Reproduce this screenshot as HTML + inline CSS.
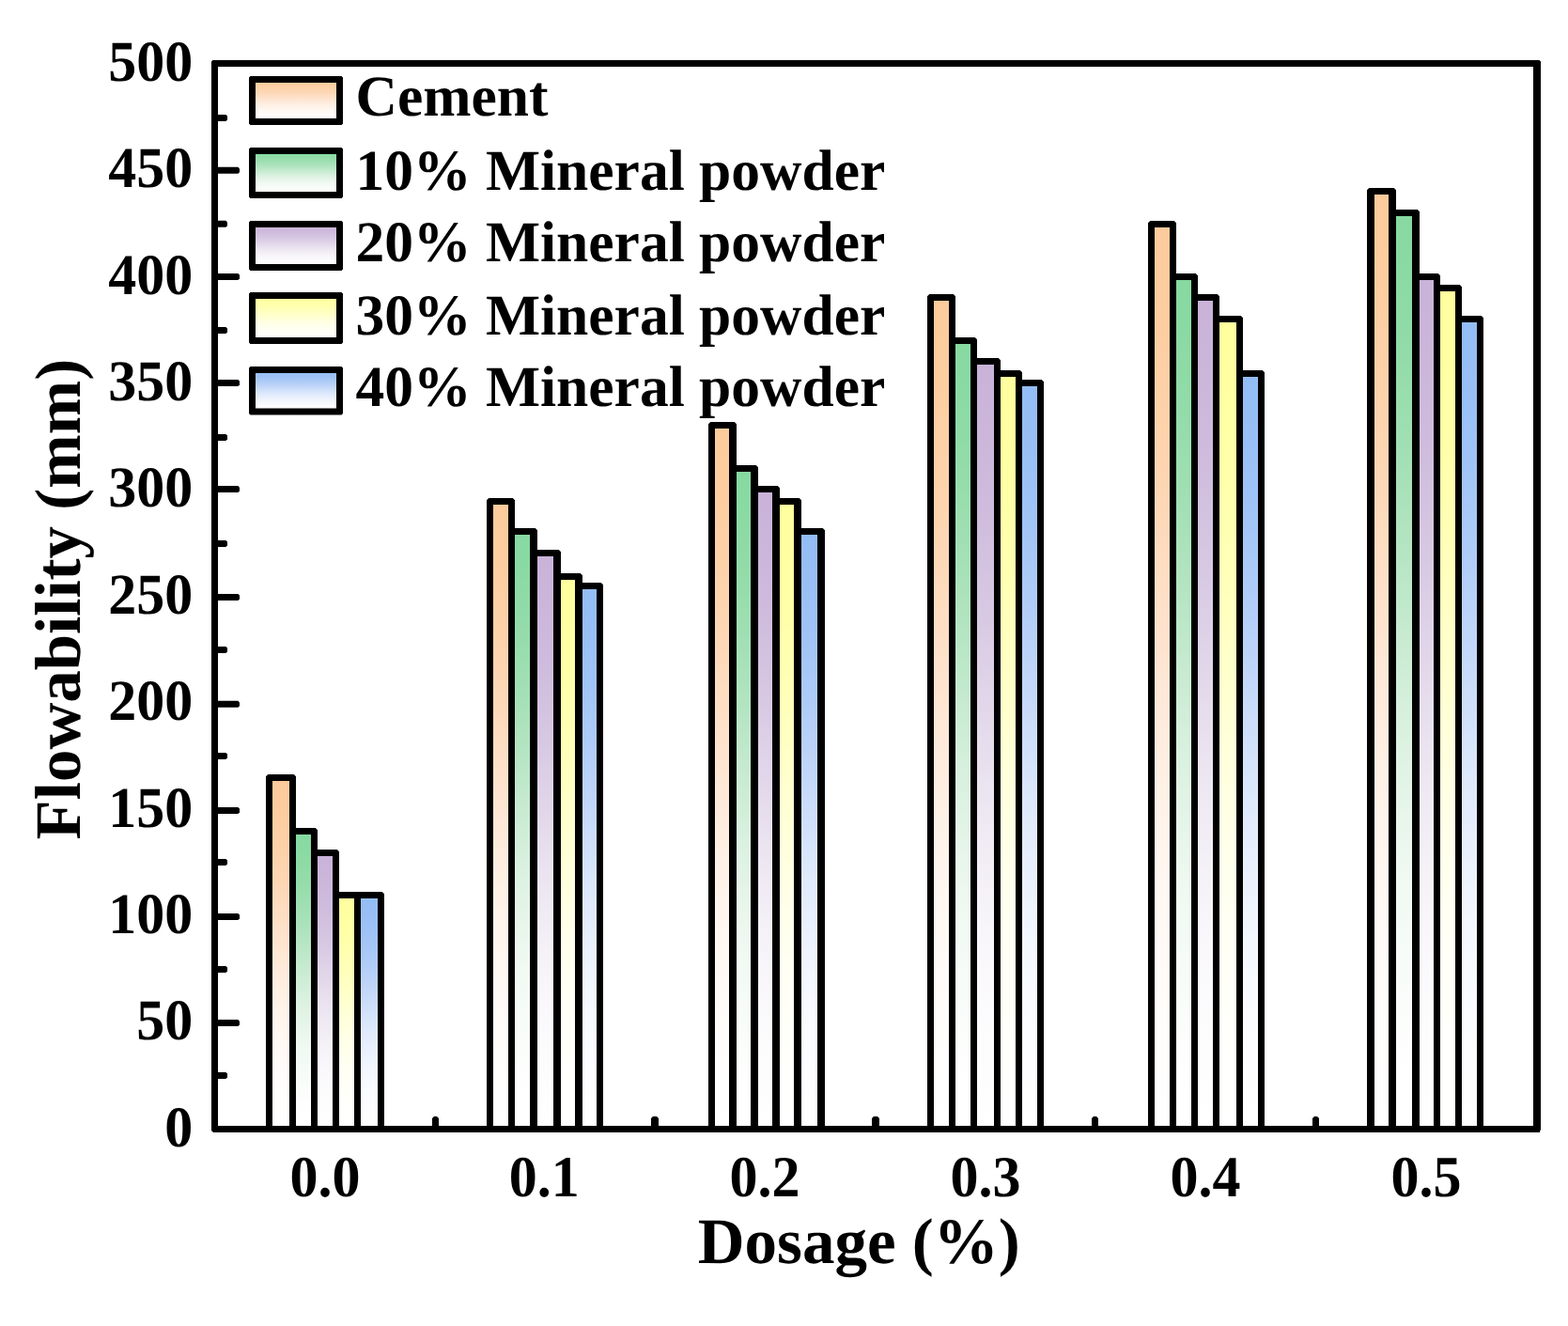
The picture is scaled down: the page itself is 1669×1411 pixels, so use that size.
<!DOCTYPE html>
<html lang="en"><head><meta charset="utf-8"><title>Flowability vs Dosage</title>
<style>
html,body{margin:0;padding:0;background:#fff;}
body{width:1669px;height:1411px;overflow:hidden;}
svg{display:block;}
text{font-family:"Liberation Serif","Times New Roman",Times,serif;font-weight:bold;fill:#000;font-kerning:none;font-variant-ligatures:none;text-rendering:geometricPrecision;}
.tk{font-size:60px;}
.lg{font-size:61.5px;}
.ti{font-size:69px;}
</style></head><body>
<svg width="1669" height="1411" viewBox="0 0 1669 1411">
<defs>
<linearGradient id="g0" x1="0" y1="0" x2="0" y2="1">
<stop offset="0" stop-color="#FDCB9B"/>
<stop offset="0.04167" stop-color="#FDCC9D"/>
<stop offset="0.08333" stop-color="#FDCD9F"/>
<stop offset="0.125" stop-color="#FDCEA2"/>
<stop offset="0.1667" stop-color="#FDD0A6"/>
<stop offset="0.2083" stop-color="#FDD2AA"/>
<stop offset="0.25" stop-color="#FDD4AF"/>
<stop offset="0.2917" stop-color="#FDD6B4"/>
<stop offset="0.3333" stop-color="#FDD9BA"/>
<stop offset="0.375" stop-color="#FEDDC1"/>
<stop offset="0.4167" stop-color="#FEE0C8"/>
<stop offset="0.4583" stop-color="#FEE3CE"/>
<stop offset="0.5" stop-color="#FEE7D5"/>
<stop offset="0.5417" stop-color="#FEEADB"/>
<stop offset="0.5833" stop-color="#FEEEE1"/>
<stop offset="0.625" stop-color="#FEF1E6"/>
<stop offset="0.6667" stop-color="#FFF4EB"/>
<stop offset="0.7083" stop-color="#FFF6F0"/>
<stop offset="0.75" stop-color="#FFF8F3"/>
<stop offset="0.7917" stop-color="#FFFAF7"/>
<stop offset="0.8333" stop-color="#FFFBF9"/>
<stop offset="0.875" stop-color="#FFFDFB"/>
<stop offset="0.9167" stop-color="#FFFEFD"/>
<stop offset="0.9583" stop-color="#FFFEFE"/>
<stop offset="1" stop-color="#FFFFFF"/>
</linearGradient>
<linearGradient id="g1" x1="0" y1="0" x2="0" y2="1">
<stop offset="0" stop-color="#86D9A0"/>
<stop offset="0.04167" stop-color="#88DAA2"/>
<stop offset="0.08333" stop-color="#8CDAA4"/>
<stop offset="0.125" stop-color="#8FDBA7"/>
<stop offset="0.1667" stop-color="#94DCAA"/>
<stop offset="0.2083" stop-color="#9ADEAE"/>
<stop offset="0.25" stop-color="#A0DFB3"/>
<stop offset="0.2917" stop-color="#A7E1B8"/>
<stop offset="0.3333" stop-color="#AFE3BD"/>
<stop offset="0.375" stop-color="#B6E5C4"/>
<stop offset="0.4167" stop-color="#BEE8CA"/>
<stop offset="0.4583" stop-color="#C7EAD0"/>
<stop offset="0.5" stop-color="#CEEDD6"/>
<stop offset="0.5417" stop-color="#D6F0DD"/>
<stop offset="0.5833" stop-color="#DDF2E2"/>
<stop offset="0.625" stop-color="#E3F4E7"/>
<stop offset="0.6667" stop-color="#E9F6EC"/>
<stop offset="0.7083" stop-color="#EEF8F0"/>
<stop offset="0.75" stop-color="#F2FAF4"/>
<stop offset="0.7917" stop-color="#F5FBF7"/>
<stop offset="0.8333" stop-color="#F8FCF9"/>
<stop offset="0.875" stop-color="#FBFDFB"/>
<stop offset="0.9167" stop-color="#FDFEFD"/>
<stop offset="0.9583" stop-color="#FEFFFE"/>
<stop offset="1" stop-color="#FFFFFF"/>
</linearGradient>
<linearGradient id="g2" x1="0" y1="0" x2="0" y2="1">
<stop offset="0" stop-color="#C9B3D9"/>
<stop offset="0.04167" stop-color="#CAB4DA"/>
<stop offset="0.08333" stop-color="#CBB6DA"/>
<stop offset="0.125" stop-color="#CCB8DB"/>
<stop offset="0.1667" stop-color="#CEBADC"/>
<stop offset="0.2083" stop-color="#D0BDDE"/>
<stop offset="0.25" stop-color="#D2C1DF"/>
<stop offset="0.2917" stop-color="#D5C5E1"/>
<stop offset="0.3333" stop-color="#D8C9E3"/>
<stop offset="0.375" stop-color="#DBCEE5"/>
<stop offset="0.4167" stop-color="#DFD3E8"/>
<stop offset="0.4583" stop-color="#E2D8EA"/>
<stop offset="0.5" stop-color="#E6DDED"/>
<stop offset="0.5417" stop-color="#EAE2F0"/>
<stop offset="0.5833" stop-color="#EDE7F2"/>
<stop offset="0.625" stop-color="#F0EBF4"/>
<stop offset="0.6667" stop-color="#F3EFF6"/>
<stop offset="0.7083" stop-color="#F6F3F8"/>
<stop offset="0.75" stop-color="#F8F6FA"/>
<stop offset="0.7917" stop-color="#FAF8FB"/>
<stop offset="0.8333" stop-color="#FBFAFC"/>
<stop offset="0.875" stop-color="#FDFCFD"/>
<stop offset="0.9167" stop-color="#FEFDFE"/>
<stop offset="0.9583" stop-color="#FEFEFF"/>
<stop offset="1" stop-color="#FFFFFF"/>
</linearGradient>
<linearGradient id="g3" x1="0" y1="0" x2="0" y2="1">
<stop offset="0" stop-color="#FFFF9E"/>
<stop offset="0.04167" stop-color="#FFFFA0"/>
<stop offset="0.08333" stop-color="#FFFFA2"/>
<stop offset="0.125" stop-color="#FFFFA5"/>
<stop offset="0.1667" stop-color="#FFFFA8"/>
<stop offset="0.2083" stop-color="#FFFFAC"/>
<stop offset="0.25" stop-color="#FFFFB1"/>
<stop offset="0.2917" stop-color="#FFFFB6"/>
<stop offset="0.3333" stop-color="#FFFFBC"/>
<stop offset="0.375" stop-color="#FFFFC2"/>
<stop offset="0.4167" stop-color="#FFFFC9"/>
<stop offset="0.4583" stop-color="#FFFFCF"/>
<stop offset="0.5" stop-color="#FFFFD6"/>
<stop offset="0.5417" stop-color="#FFFFDC"/>
<stop offset="0.5833" stop-color="#FFFFE2"/>
<stop offset="0.625" stop-color="#FFFFE7"/>
<stop offset="0.6667" stop-color="#FFFFEC"/>
<stop offset="0.7083" stop-color="#FFFFF0"/>
<stop offset="0.75" stop-color="#FFFFF4"/>
<stop offset="0.7917" stop-color="#FFFFF7"/>
<stop offset="0.8333" stop-color="#FFFFF9"/>
<stop offset="0.875" stop-color="#FFFFFB"/>
<stop offset="0.9167" stop-color="#FFFFFD"/>
<stop offset="0.9583" stop-color="#FFFFFE"/>
<stop offset="1" stop-color="#FFFFFF"/>
</linearGradient>
<linearGradient id="g4" x1="0" y1="0" x2="0" y2="1">
<stop offset="0" stop-color="#93BDF5"/>
<stop offset="0.04167" stop-color="#95BEF5"/>
<stop offset="0.08333" stop-color="#98BFF5"/>
<stop offset="0.125" stop-color="#9BC1F6"/>
<stop offset="0.1667" stop-color="#9FC3F6"/>
<stop offset="0.2083" stop-color="#A4C6F6"/>
<stop offset="0.25" stop-color="#A9C9F7"/>
<stop offset="0.2917" stop-color="#AFCCF7"/>
<stop offset="0.3333" stop-color="#B6D0F8"/>
<stop offset="0.375" stop-color="#BDD4F8"/>
<stop offset="0.4167" stop-color="#C4D8F9"/>
<stop offset="0.4583" stop-color="#CBDDF9"/>
<stop offset="0.5" stop-color="#D2E1FA"/>
<stop offset="0.5417" stop-color="#D9E6FB"/>
<stop offset="0.5833" stop-color="#DFEAFB"/>
<stop offset="0.625" stop-color="#E5EDFC"/>
<stop offset="0.6667" stop-color="#EAF1FD"/>
<stop offset="0.7083" stop-color="#EFF4FD"/>
<stop offset="0.75" stop-color="#F3F7FE"/>
<stop offset="0.7917" stop-color="#F6F9FE"/>
<stop offset="0.8333" stop-color="#F9FBFE"/>
<stop offset="0.875" stop-color="#FBFCFF"/>
<stop offset="0.9167" stop-color="#FDFDFF"/>
<stop offset="0.9583" stop-color="#FEFEFF"/>
<stop offset="1" stop-color="#FFFFFF"/>
</linearGradient>
</defs>
<rect x="0" y="0" width="1669" height="1411" fill="#fff"/>
<g id="bar-fills">
<rect x="286.50" y="827.50" width="25.00" height="374.00" fill="url(#g0)"/>
<rect x="311.50" y="884.50" width="23.00" height="317.00" fill="url(#g1)"/>
<rect x="334.50" y="907.50" width="23.00" height="294.00" fill="url(#g2)"/>
<rect x="357.50" y="952.50" width="23.00" height="249.00" fill="url(#g3)"/>
<rect x="380.50" y="952.50" width="25.00" height="249.00" fill="url(#g4)"/>
<rect x="521.50" y="533.50" width="23.00" height="668.00" fill="url(#g0)"/>
<rect x="544.50" y="565.50" width="24.00" height="636.00" fill="url(#g1)"/>
<rect x="567.50" y="588.50" width="26.00" height="613.00" fill="url(#g2)"/>
<rect x="592.50" y="613.50" width="24.00" height="588.00" fill="url(#g3)"/>
<rect x="615.50" y="623.50" width="23.00" height="578.00" fill="url(#g4)"/>
<rect x="757.50" y="452.50" width="23.00" height="749.00" fill="url(#g0)"/>
<rect x="779.50" y="498.50" width="24.00" height="703.00" fill="url(#g1)"/>
<rect x="802.50" y="520.50" width="24.00" height="681.00" fill="url(#g2)"/>
<rect x="825.50" y="533.50" width="24.00" height="668.00" fill="url(#g3)"/>
<rect x="848.50" y="565.50" width="26.00" height="636.00" fill="url(#g4)"/>
<rect x="990.50" y="316.50" width="23.00" height="885.00" fill="url(#g0)"/>
<rect x="1013.50" y="362.50" width="23.00" height="839.00" fill="url(#g1)"/>
<rect x="1036.50" y="384.50" width="25.00" height="817.00" fill="url(#g2)"/>
<rect x="1061.50" y="397.50" width="23.00" height="804.00" fill="url(#g3)"/>
<rect x="1084.50" y="407.50" width="23.00" height="794.00" fill="url(#g4)"/>
<rect x="1225.50" y="238.50" width="23.00" height="963.00" fill="url(#g0)"/>
<rect x="1248.50" y="294.50" width="23.00" height="907.00" fill="url(#g1)"/>
<rect x="1271.50" y="316.50" width="23.00" height="885.00" fill="url(#g2)"/>
<rect x="1294.50" y="339.50" width="25.00" height="862.00" fill="url(#g3)"/>
<rect x="1319.50" y="397.50" width="23.00" height="804.00" fill="url(#g4)"/>
<rect x="1458.50" y="203.50" width="24.00" height="998.00" fill="url(#g0)"/>
<rect x="1481.50" y="226.50" width="26.00" height="975.00" fill="url(#g1)"/>
<rect x="1506.50" y="294.50" width="23.00" height="907.00" fill="url(#g2)"/>
<rect x="1529.50" y="306.50" width="23.00" height="895.00" fill="url(#g3)"/>
<rect x="1552.50" y="339.50" width="23.00" height="862.00" fill="url(#g4)"/>
</g>
<g id="bar-lines" fill="#000" fill-rule="evenodd">
<path d="M283.00 1201.50L283.00 826.20L285.20 824.00L312.80 824.00L315.00 826.20L315.00 881.00L335.80 881.00L338.00 883.20L338.00 904.00L358.80 904.00L361.00 906.20L361.00 949.00L406.80 949.00L409.00 951.20L409.00 1201.50ZM290.00 831.00H308.00V1198.00H290.00ZM315.00 888.00H331.00V1198.00H315.00ZM338.00 911.00H354.00V1198.00H338.00ZM361.00 956.00H377.00V1198.00H361.00ZM384.00 956.00H402.00V1198.00H384.00Z"/>
<path d="M518.00 1201.50L518.00 532.20L520.20 530.00L545.80 530.00L548.00 532.20L548.00 562.00L569.80 562.00L572.00 564.20L572.00 585.00L594.80 585.00L597.00 587.20L597.00 610.00L617.80 610.00L620.00 612.20L620.00 620.00L639.80 620.00L642.00 622.20L642.00 1201.50ZM525.00 537.00H541.00V1198.00H525.00ZM548.00 569.00H564.00V1198.00H548.00ZM572.00 592.00H589.00V1198.00H572.00ZM597.00 617.00H612.00V1198.00H597.00ZM620.00 627.00H635.00V1198.00H620.00Z"/>
<path d="M754.00 1201.50L754.00 451.20L756.20 449.00L781.80 449.00L784.00 451.20L784.00 495.00L804.80 495.00L807.00 497.20L807.00 517.00L827.80 517.00L830.00 519.20L830.00 530.00L850.80 530.00L853.00 532.20L853.00 562.00L875.80 562.00L878.00 564.20L878.00 1201.50ZM761.00 456.00H776.00V1198.00H761.00ZM784.00 502.00H799.00V1198.00H784.00ZM807.00 524.00H822.00V1198.00H807.00ZM830.00 537.00H845.00V1198.00H830.00ZM853.00 569.00H870.00V1198.00H853.00Z"/>
<path d="M987.00 1201.50L987.00 315.20L989.20 313.00L1014.80 313.00L1017.00 315.20L1017.00 359.00L1037.80 359.00L1040.00 361.20L1040.00 381.00L1062.80 381.00L1065.00 383.20L1065.00 394.00L1085.80 394.00L1088.00 396.20L1088.00 404.00L1108.80 404.00L1111.00 406.20L1111.00 1201.50ZM994.00 320.00H1010.00V1198.00H994.00ZM1017.00 366.00H1033.00V1198.00H1017.00ZM1040.00 388.00H1058.00V1198.00H1040.00ZM1065.00 401.00H1081.00V1198.00H1065.00ZM1088.00 411.00H1104.00V1198.00H1088.00Z"/>
<path d="M1222.00 1201.50L1222.00 237.20L1224.20 235.00L1249.80 235.00L1252.00 237.20L1252.00 291.00L1272.80 291.00L1275.00 293.20L1275.00 313.00L1295.80 313.00L1298.00 315.20L1298.00 336.00L1320.80 336.00L1323.00 338.20L1323.00 394.00L1343.80 394.00L1346.00 396.20L1346.00 1201.50ZM1229.00 242.00H1245.00V1198.00H1229.00ZM1252.00 298.00H1268.00V1198.00H1252.00ZM1275.00 320.00H1291.00V1198.00H1275.00ZM1298.00 343.00H1316.00V1198.00H1298.00ZM1323.00 401.00H1339.00V1198.00H1323.00Z"/>
<path d="M1455.00 1201.50L1455.00 202.20L1457.20 200.00L1483.80 200.00L1486.00 202.20L1486.00 223.00L1508.80 223.00L1511.00 225.20L1511.00 291.00L1530.80 291.00L1533.00 293.20L1533.00 303.00L1553.80 303.00L1556.00 305.20L1556.00 336.00L1576.80 336.00L1579.00 338.20L1579.00 1201.50ZM1463.00 207.00H1478.00V1198.00H1463.00ZM1486.00 230.00H1503.00V1198.00H1486.00ZM1511.00 298.00H1526.00V1198.00H1511.00ZM1533.00 310.00H1549.00V1198.00H1533.00ZM1556.00 343.00H1572.00V1198.00H1556.00Z"/>
</g>
<g id="ticks" fill="#000">
<path d="M228.50 122.00H240.40L242.00 123.60V127.40L240.40 129.00H228.50Z"/>
<path d="M228.50 177.80H253.40L255.00 179.40V183.20L253.40 184.80H228.50Z"/>
<path d="M228.50 234.80H240.40L242.00 236.40V240.20L240.40 241.80H228.50Z"/>
<path d="M228.50 290.90H253.40L255.00 292.50V296.30L253.40 297.90H228.50Z"/>
<path d="M228.50 348.00H240.40L242.00 349.60V353.40L240.40 355.00H228.50Z"/>
<path d="M228.50 403.90H253.40L255.00 405.50V409.30L253.40 410.90H228.50Z"/>
<path d="M228.50 461.90H240.40L242.00 463.50V467.30L240.40 468.90H228.50Z"/>
<path d="M228.50 517.10H253.40L255.00 518.70V522.50L253.40 524.10H228.50Z"/>
<path d="M228.50 574.90H240.40L242.00 576.50V580.30L240.40 581.90H228.50Z"/>
<path d="M228.50 632.00H253.40L255.00 633.60V637.40L253.40 639.00H228.50Z"/>
<path d="M228.50 688.00H240.40L242.00 689.60V693.40L240.40 695.00H228.50Z"/>
<path d="M228.50 745.80H253.40L255.00 747.40V751.20L253.40 752.80H228.50Z"/>
<path d="M228.50 800.90H240.40L242.00 802.50V806.30L240.40 807.90H228.50Z"/>
<path d="M228.50 858.90H253.40L255.00 860.50V864.30L253.40 865.90H228.50Z"/>
<path d="M228.50 914.00H240.40L242.00 915.60V919.40L240.40 921.00H228.50Z"/>
<path d="M228.50 971.90H253.40L255.00 973.50V977.30L253.40 978.90H228.50Z"/>
<path d="M228.50 1028.00H240.40L242.00 1029.60V1033.40L240.40 1035.00H228.50Z"/>
<path d="M228.50 1085.10H253.40L255.00 1086.70V1090.50L253.40 1092.10H228.50Z"/>
<path d="M228.50 1140.90H240.40L242.00 1142.50V1146.30L240.40 1147.90H228.50Z"/>
<path d="M460.00 1201.50V1190.00L462.00 1188.00H465.00L467.00 1190.00V1201.50Z"/>
<path d="M693.00 1201.50V1190.00L695.00 1188.00H699.00L701.00 1190.00V1201.50Z"/>
<path d="M928.00 1201.50V1190.00L930.00 1188.00H934.00L936.00 1190.00V1201.50Z"/>
<path d="M1162.00 1201.50V1190.00L1164.00 1188.00H1167.00L1169.00 1190.00V1201.50Z"/>
<path d="M1397.00 1201.50V1190.00L1399.00 1188.00H1402.00L1404.00 1190.00V1201.50Z"/>
</g>
<path id="frame" fill="#000" fill-rule="evenodd" d="M226.5 64H1638.5L1640 65.5V1202.8H1639V1205H227L225 1203V65.5ZM232 71H1632V1198H232Z"/>
<g class="tk" text-anchor="end">
<text transform="translate(205.2 1219.70) scale(1 1.025)">0</text>
<text transform="translate(205.2 1106.30) scale(1 1.025)">50</text>
<text transform="translate(205.2 992.90) scale(1 1.025)">100</text>
<text transform="translate(205.2 879.50) scale(1 1.025)">150</text>
<text transform="translate(205.2 766.10) scale(1 1.025)">200</text>
<text transform="translate(205.2 652.70) scale(1 1.025)">250</text>
<text transform="translate(205.2 539.30) scale(1 1.025)">300</text>
<text transform="translate(205.2 425.90) scale(1 1.025)">350</text>
<text transform="translate(205.2 312.50) scale(1 1.025)">400</text>
<text transform="translate(205.2 199.10) scale(1 1.025)">450</text>
<text transform="translate(205.2 85.70) scale(1 1.025)">500</text>
</g>
<g class="tk" text-anchor="middle">
<text transform="translate(345.90 1272.9) scale(1 1.035)">0.0</text>
<text transform="translate(579.20 1272.9) scale(1 1.035)">0.1</text>
<text transform="translate(814.00 1272.9) scale(1 1.035)">0.2</text>
<text transform="translate(1049.00 1272.9) scale(1 1.035)">0.3</text>
<text transform="translate(1283.00 1272.9) scale(1 1.035)">0.4</text>
<text transform="translate(1518.00 1272.9) scale(1 1.035)">0.5</text>
</g>
<text class="ti" text-anchor="middle" transform="translate(914.2 1343.9)">Dosage (%)</text>
<text class="ti" text-anchor="middle" transform="translate(85.1 637.6) rotate(-90)">Flowability (mm)</text>
<g id="legend">
<rect x="268.50" y="84.50" width="93.00" height="45.00" fill="url(#g0)"/>
<path fill="#000" fill-rule="evenodd" d="M266.50 81.00L363.50 81.00L365.00 82.50L365.00 131.50L363.50 133.00L266.50 133.00L265.00 131.50L265.00 82.50ZM272.00 88.00H358.00V126.00H272.00Z"/>
<text class="lg" transform="translate(378.6 123.30)">Cement</text>
<rect x="268.50" y="160.50" width="93.00" height="47.00" fill="url(#g1)"/>
<path fill="#000" fill-rule="evenodd" d="M266.50 157.00L363.50 157.00L365.00 158.50L365.00 209.50L363.50 211.00L266.50 211.00L265.00 209.50L265.00 158.50ZM272.00 164.00H358.00V204.00H272.00Z"/>
<text class="lg" transform="translate(378.6 202.00)">10% Mineral powder</text>
<rect x="268.50" y="238.50" width="93.00" height="46.00" fill="url(#g2)"/>
<path fill="#000" fill-rule="evenodd" d="M266.50 235.00L363.50 235.00L365.00 236.50L365.00 286.50L363.50 288.00L266.50 288.00L265.00 286.50L265.00 236.50ZM272.00 242.00H358.00V281.00H272.00Z"/>
<text class="lg" transform="translate(378.6 278.30)">20% Mineral powder</text>
<rect x="268.50" y="314.50" width="93.00" height="48.00" fill="url(#g3)"/>
<path fill="#000" fill-rule="evenodd" d="M266.50 311.00L363.50 311.00L365.00 312.50L365.00 364.50L363.50 366.00L266.50 366.00L265.00 364.50L265.00 312.50ZM272.00 318.00H358.00V359.00H272.00Z"/>
<text class="lg" transform="translate(378.6 356.20)">30% Mineral powder</text>
<rect x="268.50" y="393.50" width="93.00" height="44.50" fill="url(#g4)"/>
<path fill="#000" fill-rule="evenodd" d="M266.50 390.00L363.50 390.00L365.00 391.50L365.00 440.00L363.50 441.50L266.50 441.50L265.00 440.00L265.00 391.50ZM272.00 397.00H358.00V434.50H272.00Z"/>
<text class="lg" transform="translate(378.6 432.30)">40% Mineral powder</text>
</g>
</svg>
</body></html>
